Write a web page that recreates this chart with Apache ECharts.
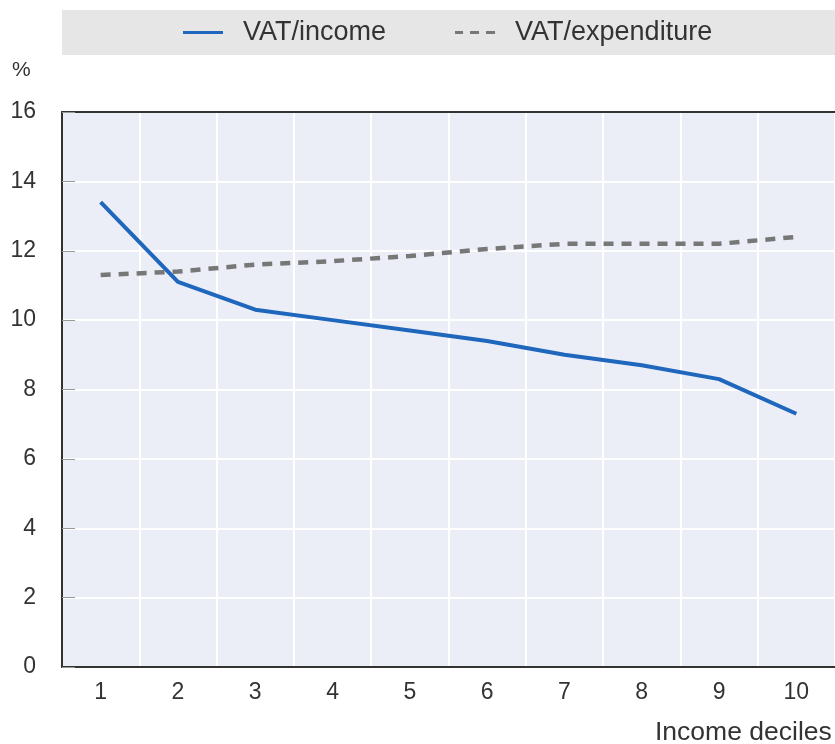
<!DOCTYPE html>
<html><head><meta charset="utf-8">
<script src="https://cdn.jsdelivr.net/npm/echarts@6/dist/echarts.min.js"></script>
<style>html,body{margin:0;padding:0;background:#fff}#c{width:835px;height:744px}</style>
</head><body><div id="c"></div>
<script>
const categories = ['1','2','3','4','5','6','7','8','9','10'];
const vatIncome = [13.4, 11.1, 10.3, 10.0, 9.7, 9.4, 9.0, 8.7, 8.3, 7.3];
const vatExpenditure = [11.3, 11.4, 11.6, 11.7, 11.85, 12.05, 12.2, 12.2, 12.2, 12.4];
const yTicks = [0, 2, 4, 6, 8, 10, 12, 14, 16];

const chart = echarts.init(document.getElementById('c'), null, {renderer: 'canvas'});
const font = '"Liberation Sans", Arial, sans-serif';
chart.setOption({
  animation: false,
  graphic: [
    {type: 'rect', left: 62, top: 10, shape: {width: 773, height: 45}, style: {fill: '#e6e6e6'}, z: -1},
    {type: 'text', left: 12, top: 60, style: {text: '%', font: '21px ' + font, fill: '#333'}},
    {type: 'text', left: 655, top: 719, style: {text: 'Income deciles', font: '26.5px ' + font, fill: '#333'}}
  ],
  legend: {
    left: 183, top: 19, padding: 0, itemWidth: 40, itemHeight: 14, itemGap: 69,
    textStyle: {fontFamily: font, fontSize: 27, color: '#333', padding: [0,0,0,15]},
    data: [
      {name: 'VAT/income', icon: 'path://M0,0h40v3h-40z'},
      {name: 'VAT/expenditure', icon: 'path://M0,0h8v3h-8zM15,0h9v3h-9zM31,0h9v3h-9z'}
    ]
  },
  grid: {left: 62, top: 112, width: 777, height: 555, show: true, backgroundColor: '#eceef7', borderWidth: 0},
  xAxis: [{
    type: 'category', data: categories, boundaryGap: true,
    axisLine: {lineStyle: {color: '#333', width: 2}},
    axisTick: {inside: true, length: 12, lineStyle: {color: '#888'}},
    axisLabel: {fontFamily: font, fontSize: 23, color: '#333', margin: 14},
    splitLine: {show: true, lineStyle: {color: '#fff', width: 2}}
  }, {
    type: 'category', data: categories, position: 'top', boundaryGap: true,
    axisLine: {show: true, lineStyle: {color: '#333', width: 2}},
    axisTick: {show: false}, axisLabel: {show: false}, splitLine: {show: false}
  }],
  yAxis: {
    type: 'value', min: 0, max: 16, interval: 2,
    axisLine: {show: true, lineStyle: {color: '#333', width: 2}},
    axisTick: {show: true, inside: true, length: 13, lineStyle: {color: '#999'}},
    axisLabel: {fontFamily: font, fontSize: 23, color: '#333', margin: 26,
      formatter: v => yTicks.includes(v) ? String(v) : ''},
    splitLine: {show: true, lineStyle: {color: '#fff', width: 2}}
  },
  series: [
    {name: 'VAT/income', type: 'line', data: vatIncome, symbol: 'none', color: '#1f66bd',
      lineStyle: {color: '#1f66bd', width: 4}},
    {name: 'VAT/expenditure', type: 'line', data: vatExpenditure, symbol: 'none', color: '#777',
      lineStyle: {color: '#777', width: 4.5, type: [10, 8]}}
  ]
});
</script></body></html>
